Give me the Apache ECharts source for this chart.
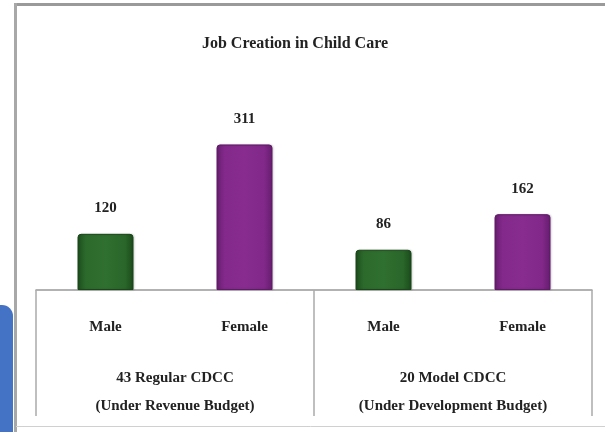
<!DOCTYPE html>
<html>
<head>
<meta charset="utf-8">
<script src="https://cdn.jsdelivr.net/npm/echarts@6/dist/echarts.min.js"></script>
<style>html,body{margin:0;padding:0;background:#fff;}#c{width:605px;height:432px;}</style>
</head>
<body>
<div id="c"></div>
<script>
const titleText = "Job Creation in Child Care";
const categories = ["Male", "Female", "Male", "Female"];
const groups = ["43 Regular CDCC\n(Under Revenue Budget)", "20 Model CDCC\n(Under Development Budget)"];
const values = [120, 311, 86, 162];
const genders = ["male", "female", "male", "female"];

const font = "'Liberation Serif', 'Times New Roman', serif";
const greenGrad = new echarts.graphic.LinearGradient(0, 0, 1, 0, [
  {offset: 0, color: '#1d4f1d'}, {offset: 0.15, color: '#2c6a2c'},
  {offset: 0.5, color: '#2f6f2f'}, {offset: 0.85, color: '#2a662a'}, {offset: 1, color: '#1a4a1a'}]);
const purpleGrad = new echarts.graphic.LinearGradient(0, 0, 1, 0, [
  {offset: 0, color: '#6a1f72'}, {offset: 0.15, color: '#84298c'},
  {offset: 0.5, color: '#882c90'}, {offset: 0.85, color: '#82288a'}, {offset: 1, color: '#651d6d'}]);

const chart = echarts.init(document.getElementById('c'), null, {renderer: 'canvas'});
chart.setOption({
  animation: false,
  backgroundColor: '#ffffff',
  title: {
    text: titleText, left: 290, top: 31, textAlign: 'center',
    textStyle: {fontFamily: font, fontWeight: 'bold', fontSize: 16, color: '#222'}
  },
  graphic: [
    {type: 'rect', shape: {x: 0, y: 305, width: 13, height: 140, r: [0, 11, 0, 0]}, style: {fill: '#4472c4'}, z: 10},
    {type: 'line', shape: {x1: 14, y1: 4.5, x2: 605, y2: 4.5}, style: {stroke: '#9a9a9a', lineWidth: 3}, z: 10},
    {type: 'line', shape: {x1: 15.5, y1: 3, x2: 15.5, y2: 432}, style: {stroke: '#a8a8a8', lineWidth: 3}, z: 10},
    {type: 'line', shape: {x1: 16, y1: 426.5, x2: 605, y2: 426.5}, style: {stroke: '#d0d0d0', lineWidth: 1}, z: 10}
  ],
  grid: {left: 36, right: 13, top: 56, bottom: 142, containLabel: false},
  xAxis: [
    {
      type: 'category', data: categories, position: 'bottom',
      axisLine: {lineStyle: {color: '#999', width: 1.5}},
      axisTick: {show: false},
      axisLabel: {margin: 30, fontFamily: font, fontWeight: 'bold', fontSize: 15, color: '#222'}
    },
    {
      type: 'category', data: groups, position: 'bottom',
      axisLine: {show: false},
      axisTick: {show: true, length: 126, interval: 0, lineStyle: {color: '#aaa', width: 1.5}},
      axisLabel: {margin: 74, fontFamily: font, fontWeight: 'bold', fontSize: 15, lineHeight: 28, color: '#222', interval: 0}
    }
  ],
  yAxis: {type: 'value', min: 0, max: 500, show: false, splitLine: {show: false}},
  series: [{
    type: 'bar', xAxisIndex: 0, barWidth: 56,
    data: values.map((v, i) => ({
      value: v,
      itemStyle: {
        color: genders[i] === 'male' ? greenGrad : purpleGrad,
        borderColor: genders[i] === 'male' ? '#1a451a' : '#5f1b66',
        borderWidth: 1,
        borderRadius: [3, 3, 0, 0],
        shadowColor: 'rgba(0,0,0,0.15)', shadowBlur: 2, shadowOffsetX: 1
      }
    })),
    label: {show: true, position: 'top', distance: 18, fontFamily: font, fontWeight: 'bold', fontSize: 15, color: '#222'}
  }]
});
</script>
</body>
</html>
